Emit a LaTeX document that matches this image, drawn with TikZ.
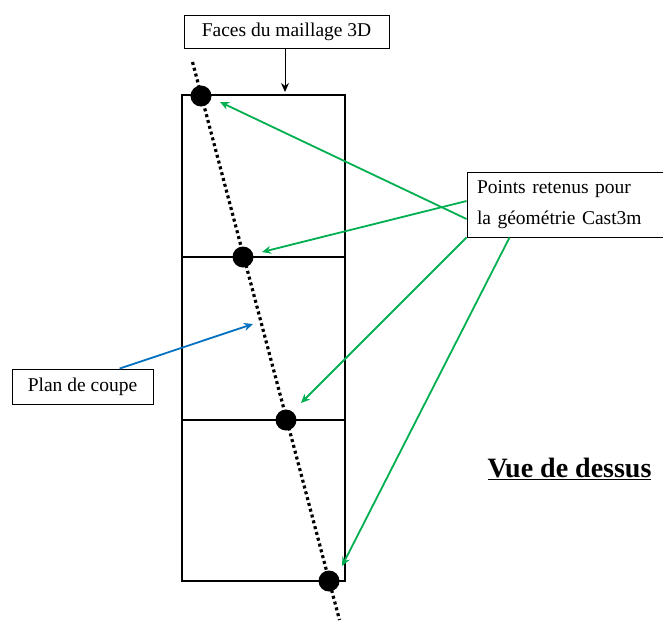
\documentclass[tikz,border=0pt]{standalone}
\usepackage{fontspec}
\setmainfont{Liberation Serif}
\usetikzlibrary{arrows.meta}
\definecolor{ggreen}{RGB}{0,176,80}
\definecolor{gblue}{RGB}{0,112,192}
\tikzset{
  lbl/.style={draw=black, line width=0.9pt, fill=white, inner sep=0pt, font=\fontsize{19.5}{31}\selectfont},
  gline/.style={draw=ggreen, line width=1.8pt, -{Stealth[length=9pt,width=8pt]}},
  pt/.style={circle, fill=black, minimum size=21pt, inner sep=0pt},
}
\begin{document}
\begin{tikzpicture}[x=1pt,y=-1pt]
\useasboundingbox (0,0) rectangle (663,621);
% cells
\draw[line width=1.5pt] (182,95) rectangle (345,581);
\draw[line width=1.5pt] (182,257) -- (345,257);
\draw[line width=1.5pt] (182,420) -- (345,420);
% cutting plane
\coordinate (ctop) at (192.5,62);
\coordinate (cbot) at (339.5,620);
\draw[line width=3.2pt, dash pattern=on 3pt off 3pt] (ctop) -- (cbot);
\node[pt] (p1) at (201,96) {};
\node[pt] (p2) at (243,257) {};
\node[pt] (p3) at (286,420) {};
\node[pt] (p4) at (329,581) {};
% labels
\node[lbl, minimum width=205pt, minimum height=33pt] (faces) at (286.5,31.5) {Faces du maillage 3D};
\coordinate (ftip) at (285,92);
\draw[line width=1pt, -{Stealth[length=9pt,width=8pt]}] (faces.south -| ftip) -- (ftip);
\node[lbl, text width=185pt, inner xsep=10pt, minimum height=65pt, align=left] (pts) at (569.5,204.5) {Points retenus pour\\la géométrie Cast3m};
\node[lbl, minimum width=141pt, minimum height=35pt] (plan) at (82.5,386.5) {Plan de coupe};
\node[font=\bfseries\fontsize{28}{32}\selectfont] (vue) at (569.5,469) {\underline{Vue de dessus}};
% arrows
\coordinate (g1) at (220,102);
\coordinate (g2) at (262,252);
\coordinate (g3) at (301,403);
\coordinate (g4) at (342,566);
\draw[gline] ([yshift=-14.5pt]pts.west) -- (g1);
\draw[gline] ([yshift=3.5pt]pts.west) -- (g2);
\draw[gline] (pts.south west) -- (g3);
\draw[gline] ([xshift=43pt]pts.south west) -- (g4);
\coordinate (b1) at (253,324);
\draw[draw=gblue, line width=1.8pt, -{Stealth[length=9pt,width=8pt]}] ([xshift=108pt]plan.north west) -- (b1);
\end{tikzpicture}
\end{document}
